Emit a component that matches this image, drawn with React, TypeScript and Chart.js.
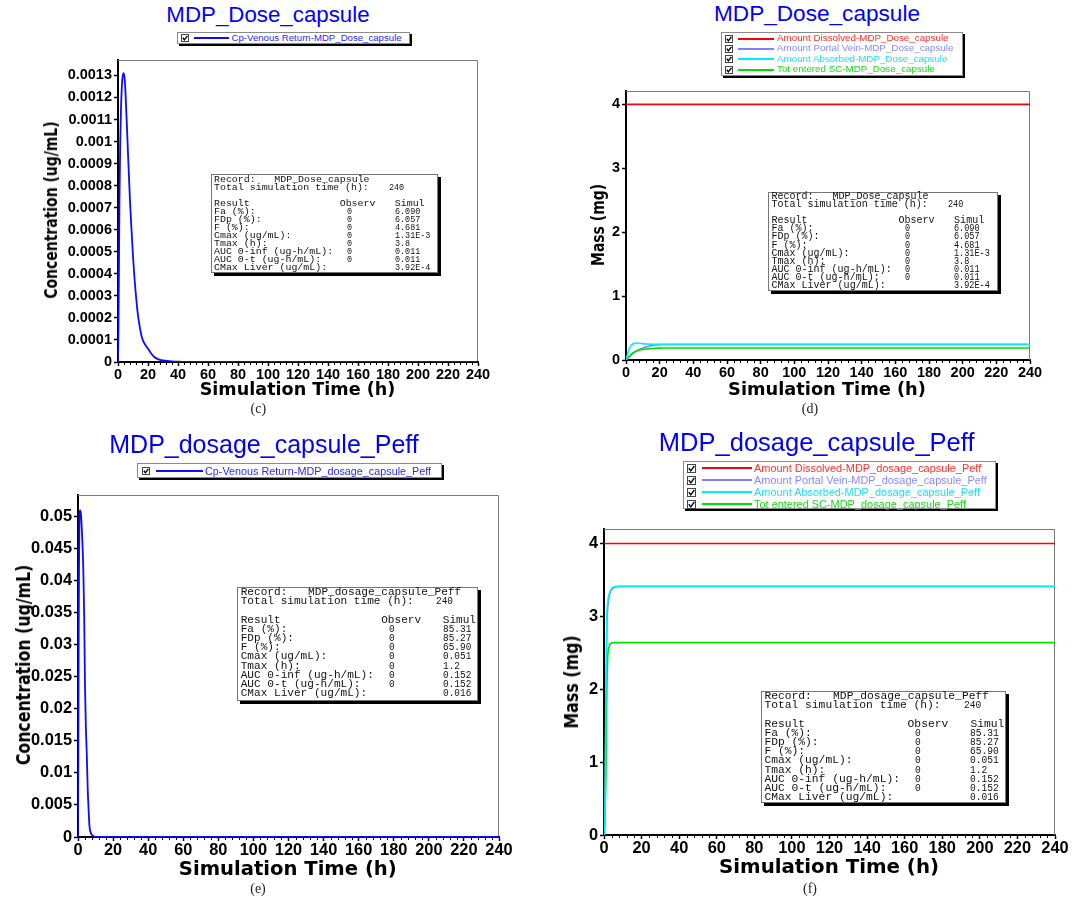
import React, { useEffect, useRef } from "react";
import { Chart, registerables } from "chart.js";

Chart.register(...registerables);

// ---------------- data ----------------
const xTicks = [0, 20, 40, 60, 80, 100, 120, 140, 160, 180, 200, 220, 240];
const xMinorTicks = xTicks.slice(0, -1).flatMap((t) => [t + 4, t + 8, t + 12, t + 16]);

const cYTicks = ["0", "0.0001", "0.0002", "0.0003", "0.0004", "0.0005", "0.0006", "0.0007", "0.0008", "0.0009", "0.001", "0.0011", "0.0012", "0.0013"];
const eYTicks = ["0", "0.005", "0.01", "0.015", "0.02", "0.025", "0.03", "0.035", "0.04", "0.045", "0.05"];
const massYTicks = ["0", "1", "2", "3", "4"];

const cYMax = 0.00137;
const dYMax = 4.21;
const eYMax = 0.0533;
const fYMax = 4.2;

const recordDose = "MDP_Dose_capsule";
const recordPeff = "MDP_dosage_capsule_Peff";

// (c) venous concentration, dose capsule
const cTime = [0, 0.3, 0.6, 1, 1.5, 2, 2.5, 3, 3.8, 4.5, 5, 5.5, 6, 7, 8, 9, 10, 11, 12, 13, 14, 16, 18, 20, 22, 24, 27, 30, 34, 38, 42, 47, 240];
const cConc = [0, 0.00015, 0.0004, 0.00075, 0.001, 0.00115, 0.00124, 0.00129, 0.00131, 0.00128, 0.00122, 0.00114, 0.00106, 0.00089, 0.00073, 0.0006, 0.00048, 0.00038, 0.0003, 0.00023, 0.00018, 0.00011, 0.00008, 0.00006, 0.00004, 0.000024, 0.000012, 0.000007, 0.000004, 0.000002, 0.000001, 0, 0];

// (d) masses, dose capsule
const dTime = [0, 1, 2, 3, 4, 5, 6, 8, 10, 12, 14, 16, 18, 20, 22, 24, 240];
const dDissolved = [4, 4, 4, 4, 4, 4, 4, 4, 4, 4, 4, 4, 4, 4, 4, 4, 4];
const dPortal = [0, 0.025, 0.05, 0.075, 0.1, 0.12, 0.138, 0.165, 0.188, 0.205, 0.218, 0.228, 0.235, 0.239, 0.242, 0.243, 0.243];
const dAbsorbed = [0, 0.1, 0.18, 0.225, 0.25, 0.26, 0.265, 0.262, 0.256, 0.251, 0.248, 0.246, 0.245, 0.244, 0.244, 0.244, 0.244];
const dSC = [0, 0.03, 0.06, 0.09, 0.11, 0.125, 0.138, 0.155, 0.166, 0.173, 0.178, 0.181, 0.184, 0.186, 0.187, 0.187, 0.187];

// (e) venous concentration, Peff
const eTime = [0, 0.2, 0.4, 0.6, 0.8, 1.2, 1.6, 2, 2.5, 3, 3.5, 4, 4.5, 5, 5.5, 6, 6.5, 7, 8, 9, 10, 240];
const eConc = [0, 0.014, 0.032, 0.043, 0.049, 0.0509, 0.0505, 0.049, 0.046, 0.042, 0.035, 0.0234, 0.017, 0.013, 0.0078, 0.0045, 0.0018, 0.0009, 0.0003, 0.0001, 0, 0];

// (f) masses, Peff
const fTime = [0, 0.5, 1, 1.5, 2, 2.5, 3, 4, 5, 6, 8, 10, 15, 20, 240];
const fDissolved = [4, 4, 4, 4, 4, 4, 4, 4, 4, 4, 4, 4, 4, 4, 4];
const fPortal = [0, 0.2, 1.6, 2.8, 3.12, 3.24, 3.3, 3.37, 3.39, 3.405, 3.41, 3.41, 3.41, 3.41, 3.41];
const fAbsorbed = [0, 0.3, 1.9, 3.0, 3.2, 3.28, 3.33, 3.38, 3.4, 3.41, 3.415, 3.415, 3.415, 3.415, 3.415];
const fSC = [0, 0.3, 0.8, 1.95, 2.45, 2.56, 2.61, 2.635, 2.64, 2.64, 2.64, 2.64, 2.64, 2.64, 2.64];

// stats tables
const statLabels = ["Fa (%):", "FDp (%):", "F (%):", "Cmax (ug/mL):", "Tmax (h):", "AUC 0-inf (ug-h/mL):", "AUC 0-t (ug-h/mL):", "CMax Liver (ug/mL):"];
const statObserv = ["0", "0", "0", "0", "0", "0", "0", ""];
const simulDose = ["6.090", "6.057", "4.681", "1.31E-3", "3.8", "0.011", "0.011", "3.92E-4"];
const simulPeff = ["85.31", "85.27", "65.90", "0.051", "1.2", "0.152", "0.152", "0.016"];
const simTime = "240";

// colours
const BLUE = "#0c0cff";
const RED = "#ff0000";
const PORTAL = "#8080ff";
const CYAN = "#00ecff";
const GREEN = "#00e000";

// ---------------- chart ----------------
const PAD_L = 72, PAD_T = 14, PAD_R = 34, PAD_B = 32;

const framePlugin = {
  id: "frameMinor",
  beforeDatasetsDraw(chart: any) {
    const { ctx, chartArea: a } = chart;
    ctx.save();
    ctx.strokeStyle = "#7a7a7a";
    ctx.lineWidth = 1;
    ctx.beginPath();
    ctx.moveTo(a.left, a.top + 0.5);
    ctx.lineTo(a.right - 0.5, a.top + 0.5);
    ctx.lineTo(a.right - 0.5, a.bottom);
    ctx.stroke();
    ctx.restore();
  },
  afterDraw(chart: any) {
    const { ctx, chartArea: a } = chart;
    const xs = chart.scales.x;
    ctx.save();
    ctx.strokeStyle = "#000";
    ctx.lineWidth = 1;
    ctx.beginPath();
    for (const v of xMinorTicks) {
      const px = Math.round(xs.getPixelForValue(v)) + 0.5;
      ctx.moveTo(px, a.bottom);
      ctx.lineTo(px, a.bottom + 3);
    }
    ctx.stroke();
    ctx.restore();
  },
};

function Plot({ rect, yMax, yTicks, series, tick }: any) {
  const ref = useRef<HTMLCanvasElement>(null);
  const w = rect.r - rect.l + PAD_L + PAD_R;
  const h = rect.b - rect.t + PAD_T + PAD_B;
  useEffect(() => {
    const font = { family: "'Liberation Sans', Arial, sans-serif", weight: "bold", size: tick };
    const grid = { drawOnChartArea: false, drawTicks: true, tickLength: 4, tickColor: "#000", tickWidth: 1.5, color: "#000" };
    const border = { display: true, color: "#000", width: 2 };
    const chart = new Chart(ref.current as HTMLCanvasElement, {
      type: "line",
      data: {
        datasets: series.map((s: any) => ({
          label: s.label,
          data: s.x.map((t: number, i: number) => ({ x: t, y: s.y[i] })),
          borderColor: s.color,
          backgroundColor: s.color,
          borderWidth: s.width,
          pointRadius: 0,
          fill: false,
          cubicInterpolationMode: "monotone",
          order: s.order,
        })),
      },
      options: {
        responsive: false,
        animation: false,
        devicePixelRatio: 1,
        events: [],
        layout: { padding: { left: 0, top: PAD_T, right: PAD_R, bottom: 0 } },
        plugins: { legend: { display: false }, tooltip: { enabled: false }, title: { display: false } },
        scales: {
          x: {
            type: "linear",
            min: 0,
            max: 240,
            afterBuildTicks: (s: any) => { s.ticks = xTicks.map((v) => ({ value: v })); },
            afterFit: (s: any) => { s.height = PAD_B; },
            ticks: { callback: (_v: any, i: number) => String(xTicks[i]), color: "#000", font, padding: 0, maxRotation: 0, autoSkip: false },
            grid,
            border,
          },
          y: {
            type: "linear",
            min: 0,
            max: yMax,
            afterBuildTicks: (s: any) => { s.ticks = yTicks.map((v: string) => ({ value: parseFloat(v) })); },
            afterFit: (s: any) => { s.width = PAD_L; },
            ticks: { callback: (_v: any, i: number) => yTicks[i], color: "#000", font, padding: 2, autoSkip: false },
            grid,
            border,
          },
        },
      } as any,
      plugins: [framePlugin],
    });
    return () => chart.destroy();
  }, []);
  return (
    <canvas
      ref={ref}
      width={w}
      height={h}
      style={{ position: "absolute", left: rect.l - PAD_L, top: rect.t - PAD_T, width: w, height: h }}
    />
  );
}

// ---------------- html overlays ----------------
function Txt({ x, y, size, family, weight, color, text, rotate, sx }: any) {
  let tr = "translate(-50%,-50%)";
  if (rotate) tr += " rotate(-90deg)";
  if (sx) tr += ` scaleX(${sx})`;
  return (
    <div
      style={{
        position: "absolute",
        left: x,
        top: y,
        transform: tr,
        fontSize: size,
        fontFamily: family,
        fontWeight: weight || "normal",
        color: color || "#000",
        whiteSpace: "nowrap",
        lineHeight: 1,
      }}
    >
      {text}
    </div>
  );
}

function Check({ x, cy, size }: any) {
  return (
    <svg width={size} height={size} style={{ position: "absolute", left: x, top: Math.round(cy - size / 2) }}>
      <rect x={0.5} y={0.5} width={size - 1} height={size - 1} fill="#fff" stroke="#444" strokeWidth={1} />
      <path d={`M1.8 ${size * 0.45} L${size * 0.42} ${size - 2.2} L${size - 1.6} 1.8`} stroke="#000" strokeWidth={1.4} fill="none" />
    </svg>
  );
}

function LegendBox({ g, series }: any) {
  return (
    <div
      style={{
        position: "absolute",
        left: g.l,
        top: g.t,
        width: g.w,
        height: g.h,
        background: "#fff",
        border: "1px solid #8a8a8a",
        boxShadow: "2px 2px 0 #000",
        boxSizing: "border-box",
      }}
    >
      {series.map((s: any, i: number) => {
        const cy = g.row0 + i * g.pitch;
        return (
          <React.Fragment key={i}>
            <Check x={g.cbX} cy={cy} size={g.cb} />
            <div style={{ position: "absolute", left: Math.round(g.x1), top: Math.round(cy) - 1, width: Math.round(g.x2 - g.x1), height: 2, background: s.color }} />
            <div
              style={{
                position: "absolute",
                left: g.tx,
                top: cy,
                transform: "translateY(-50%)",
                fontSize: g.fs,
                fontFamily: "'Liberation Sans', Arial, sans-serif",
                color: s.text,
                whiteSpace: "nowrap",
                lineHeight: 1,
              }}
            >
              {s.label}
            </div>
          </React.Fragment>
        );
      })}
    </div>
  );
}

// column offsets (px at a 5.96 px character pitch)
const COL_RECORD = 60.3, COL_TIME = 174.9, COL_OBS_HEAD = 125.7, COL_OBS = 132.5, COL_SIM = 180.8;

function StatBox({ g, record, simul }: any) {
  const k = g.cw / 5.96;
  const fs = g.cw / 0.6;
  const cells: any[] = [];
  const cell = (row: number, x: number, text: string, narrow?: number) => {
    cells.push(
      <div
        key={cells.length}
        style={{
          position: "absolute",
          left: g.tx + x * k,
          top: g.pad + row * g.pitch,
          height: g.pitch,
          lineHeight: `${g.pitch}px`,
          fontSize: fs,
          fontFamily: "'Liberation Mono', 'DejaVu Sans Mono', monospace",
          whiteSpace: "pre",
          color: "#111",
          transform: narrow ? `scaleX(${narrow})` : undefined,
          transformOrigin: "left center",
        }}
      >
        {text}
      </div>
    );
  };
  cell(0, 0, "Record:");
  cell(0, COL_RECORD, record);
  cell(1, 0, "Total simulation time (h):");
  cell(1, COL_TIME, simTime, 0.85);
  cell(3, 0, "Result");
  cell(3, COL_OBS_HEAD, "Observ");
  cell(3, COL_SIM, "Simul");
  statLabels.forEach((lab, i) => {
    cell(4 + i, 0, lab);
    if (statObserv[i]) cell(4 + i, COL_OBS, statObserv[i], 0.85);
    cell(4 + i, COL_SIM, simul[i], 0.85);
  });
  return (
    <div
      style={{
        position: "absolute",
        left: g.l,
        top: g.t,
        width: g.w,
        height: g.h,
        background: "#fff",
        border: "1px solid #777",
        boxShadow: "3px 3px 0 #000",
        boxSizing: "border-box",
      }}
    >
      {cells}
    </div>
  );
}

// ---------------- layout ----------------
const TITLE_FONT = "'Liberation Sans', Arial, sans-serif";
const AXIS_FONT = "'DejaVu Sans', Verdana, sans-serif";
const CAP_FONT = "'Liberation Serif', 'Times New Roman', serif";

export default function App() {
  const cSeries = [{ label: `Cp-Venous Return-${recordDose}`, color: BLUE, text: "#2a2aff", width: 1.8, order: 0, x: cTime, y: cConc }];
  const eSeries = [{ label: `Cp-Venous Return-${recordPeff}`, color: BLUE, text: "#2a2aff", width: 1.8, order: 0, x: eTime, y: eConc }];
  const massSeries = (rec: string, t: number[], dis: number[], por: number[], abs: number[], sc: number[]) => [
    { label: `Amount Dissolved-${rec}`, color: RED, text: "#ff3030", width: 1.6, order: 0, x: t, y: dis },
    { label: `Amount Portal Vein-${rec}`, color: PORTAL, text: "#8a8aff", width: 1.6, order: 3, x: t, y: por },
    { label: `Amount Absorbed-${rec}`, color: CYAN, text: "#1ee0f5", width: 1.6, order: 1, x: t, y: abs },
    { label: `Tot entered SC-${rec}`, color: GREEN, text: "#1ed81e", width: 1.6, order: 2, x: t, y: sc },
  ];
  const dSeries = massSeries(recordDose, dTime, dDissolved, dPortal, dAbsorbed, dSC);
  const fSeries = massSeries(recordPeff, fTime, fDissolved, fPortal, fAbsorbed, fSC);

  return (
    <div style={{ position: "absolute", left: 0, top: 0, width: 1072, height: 900, background: "#fff", overflow: "hidden" }}>
      {/* (c) */}
      <Plot rect={{ l: 118, t: 60, r: 478, b: 362 }} yMax={cYMax} yTicks={cYTicks} series={cSeries} tick={14.5} />
      <Txt x={268} y={14.5} size={22.3} family={TITLE_FONT} color="#0000ff" text={recordDose} />
      <LegendBox g={{ l: 177, t: 32, w: 233, h: 12, row0: 5, pitch: 0, cbX: 3, cb: 8, x1: 16, x2: 51, tx: 53.5, fs: 9.65 }} series={cSeries} />
      <StatBox g={{ l: 211, t: 174, w: 227, h: 99, tx: 2, pad: 0.5, pitch: 8.06, cw: 5.96 }} record={recordDose} simul={simulDose} />
      <Txt x={297.5} y={389.7} size={17.6} family={AXIS_FONT} weight="bold" text="Simulation Time (h)" />
      <Txt x={51} y={210} size={18} family={AXIS_FONT} weight="bold" text="Concentration (ug/mL)" rotate sx={0.775} />
      <Txt x={258.3} y={409} size={14} family={CAP_FONT} color="#222" text="(c)" />

      {/* (d) */}
      <Plot rect={{ l: 626, t: 91, r: 1030, b: 360 }} yMax={dYMax} yTicks={massYTicks} series={dSeries} tick={14.5} />
      <Txt x={817} y={14} size={22.6} family={TITLE_FONT} color="#0000ff" text={recordDose} />
      <LegendBox g={{ l: 721, t: 31.5, w: 242, h: 44, row0: 5.5, pitch: 10.45, cbX: 3, cb: 8, x1: 16, x2: 52, tx: 55, fs: 9.8 }} series={dSeries} />
      <StatBox g={{ l: 768, t: 192, w: 230, h: 99, tx: 2.5, pad: 0, pitch: 8.09, cw: 6.02 }} record={recordDose} simul={simulDose} />
      <Txt x={827} y={389} size={17.8} family={AXIS_FONT} weight="bold" text="Simulation Time (h)" />
      <Txt x={597.8} y={225} size={18} family={AXIS_FONT} weight="bold" text="Mass (mg)" rotate sx={0.775} />
      <Txt x={810} y={409} size={14} family={CAP_FONT} color="#222" text="(d)" />

      {/* (e) */}
      <Plot rect={{ l: 78, t: 495, r: 499, b: 837 }} yMax={eYMax} yTicks={eYTicks} series={eSeries} tick={16.4} />
      <Txt x={264} y={444} size={25} family={TITLE_FONT} color="#0000ff" text={recordPeff} />
      <LegendBox g={{ l: 137, t: 463, w: 305, h: 15, row0: 6.5, pitch: 0, cbX: 4, cb: 8, x1: 17.5, x2: 64.5, tx: 67, fs: 10.8 }} series={eSeries} />
      <StatBox g={{ l: 237, t: 587, w: 241, h: 114, tx: 2.7, pad: 0.3, pitch: 9.15, cw: 6.66 }} record={recordPeff} simul={simulPeff} />
      <Txt x={287.8} y={868.8} size={19.6} family={AXIS_FONT} weight="bold" text="Simulation Time (h)" />
      <Txt x={23.4} y={665} size={20} family={AXIS_FONT} weight="bold" text="Concentration (ug/mL)" rotate sx={0.788} />
      <Txt x={258} y={889} size={14} family={CAP_FONT} color="#222" text="(e)" />

      {/* (f) */}
      <Plot rect={{ l: 604, t: 529, r: 1055, b: 835 }} yMax={fYMax} yTicks={massYTicks} series={fSeries} tick={16.4} />
      <Txt x={816.7} y={442.5} size={25.5} family={TITLE_FONT} color="#0000ff" text={recordPeff} />
      <LegendBox g={{ l: 683, t: 461, w: 313, h: 48, row0: 6.3, pitch: 11.9, cbX: 3, cb: 9, x1: 17.5, x2: 67, tx: 70, fs: 10.95 }} series={fSeries} />
      <StatBox g={{ l: 761, t: 691, w: 245, h: 112, tx: 2.4, pad: 0, pitch: 9.2, cw: 6.79 }} record={recordPeff} simul={simulPeff} />
      <Txt x={829} y={867} size={19.8} family={AXIS_FONT} weight="bold" text="Simulation Time (h)" />
      <Txt x={570.9} y={681.7} size={20} family={AXIS_FONT} weight="bold" text="Mass (mg)" rotate sx={0.793} />
      <Txt x={810} y={889} size={14} family={CAP_FONT} color="#222" text="(f)" />
    </div>
  );
}
